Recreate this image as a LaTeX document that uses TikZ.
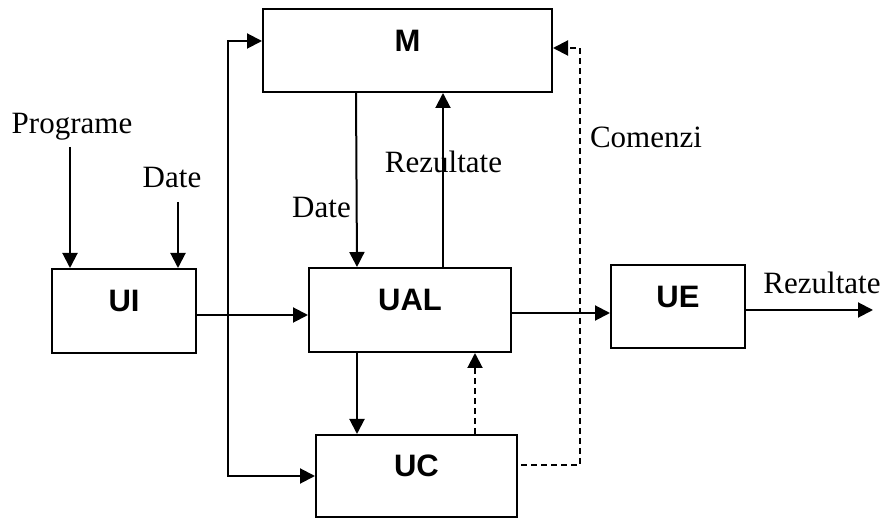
\documentclass[tikz,border=0pt]{standalone}
\usepackage{fontspec}
\setmainfont{Liberation Serif}
\setsansfont{Liberation Sans}
\usetikzlibrary{arrows.meta}

\tikzset{
  unitbox/.style={draw,inner sep=0pt,font=\fontsize{31}{36}\selectfont\sffamily\bfseries,text height=22pt,text depth=20pt},
  ctrl/.style={dash pattern=on 6pt off 4pt},
  >={Triangle[length=15pt,width=15pt]}
}

\begin{document}
\begin{tikzpicture}[x=1pt,y=-1pt,line width=2pt,font=\fontsize{31}{36}\selectfont]
  \useasboundingbox (0,0) rectangle (887,518);
  % units
  \node[unitbox,minimum width=289pt,minimum height=83pt] (M) at (407.5,50.5) {M};
  \node[unitbox,minimum width=144pt,minimum height=84pt] (UI) at (124,311) {UI};
  \node[unitbox,minimum width=202pt,minimum height=84pt] (UAL) at (410,310) {UAL};
  \node[unitbox,minimum width=134pt,minimum height=83pt] (UE) at (678,306.5) {UE};
  \node[unitbox,minimum width=201pt,minimum height=82pt] (UC) at (416.5,476) {UC};
  % labels
  \node (prog) at (72,127) {Programe};
  \node (dateui) at (172,178) {Date};
  \node (datem) at (321.5,208) {Date};
  \node (rezm) at (443.5,162) {Rezultate};
  \node (cmdlbl) at (646,137) {Comenzi};
  \node (rezout) at (822,283) {Rezultate};
  % free ends and columns
  \coordinate (xprog) at (70,147);
  \coordinate (xdate) at (178,202);
  \coordinate (xrez) at (443,0);
  \coordinate (xdown) at (357,0);
  \coordinate (xcmd) at (475,0);
  \coordinate (cmd) at (580,48);
  \coordinate (bus) at (228,476);
  \coordinate (out) at (873,310);
  % data paths
  \draw[->] (xprog) -- (xprog |- UI.north);
  \draw[->] (xdate) -- (xdate |- UI.north);
  \draw[->] ([yshift=-4pt]UI.east) -- ([yshift=-5pt]UAL.west);
  \draw[->] ([xshift=94pt]M.south west) -- ([xshift=49pt]UAL.north west);
  \draw[->] (xrez |- UAL.north) -- (xrez |- M.south);
  \draw[->] (xdown |- UAL.south) -- (xdown |- UC.north);
  \draw[->] ([yshift=-3pt]UAL.east) -- ([yshift=-6.5pt]UE.west);
  \draw[->] ([yshift=-3.5pt]UE.east) -- (out);
  \draw[<->] ([yshift=9.5pt]M.west) -| (bus) -- (UC.west);
  % control paths
  \draw[->,ctrl] (xcmd |- UC.north) -- (xcmd |- UAL.south);
  \draw[->,ctrl] ([xshift=3pt,yshift=11pt]UC.east) -| (cmd) -- (cmd -| M.east);
\end{tikzpicture}
\end{document}
